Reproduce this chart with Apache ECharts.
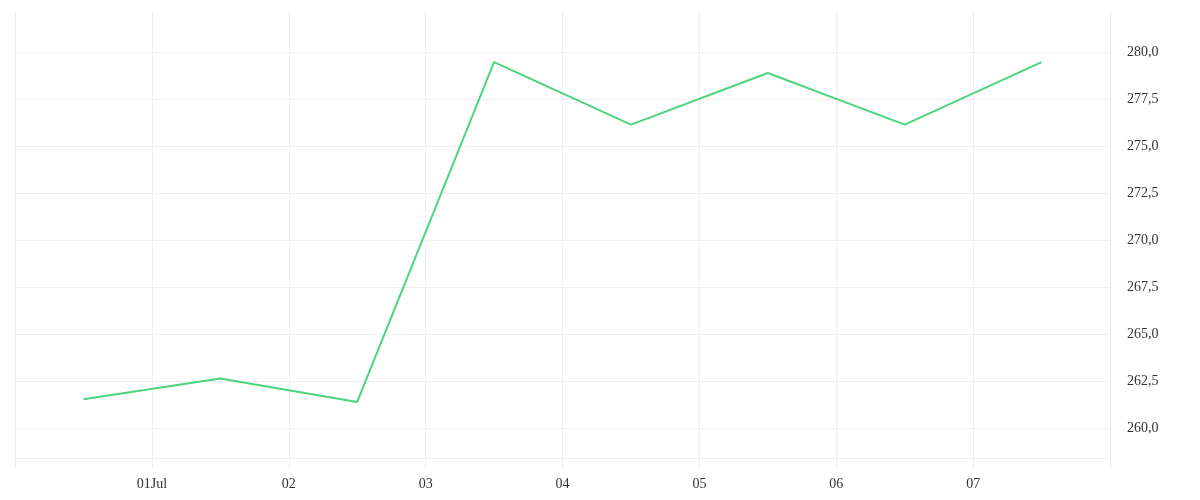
<!DOCTYPE html>
<html>
<head>
<meta charset="utf-8">
<script src="https://cdn.jsdelivr.net/npm/echarts@6/dist/echarts.min.js"></script>
<style>html,body{margin:0;padding:0;background:#fff}#c{width:1200px;height:500px}</style>
</head>
<body>
<div id="c"></div>
<script>
// Data
const dates = ['2024-06-30 12:00','2024-07-01 12:00','2024-07-02 12:00','2024-07-03 12:00','2024-07-04 12:00','2024-07-05 12:00','2024-07-06 12:00','2024-07-07 12:00'];
const values = [261.55, 262.65, 261.4, 279.48, 276.15, 278.9, 276.15, 279.48];
const xRange = ['2024-06-30 00:00', '2024-07-08 00:00'];
const yTickRange = [257.5, 282.5];
const yTickStep = 2.5;
const monthNames = ['Jan','Feb','Mar','Apr','May','Jun','Jul','Aug','Sep','Oct','Nov','Dec'];

function parseLocal(s){
  const [d,t] = s.split(' ');
  const [y,m,dd] = d.split('-').map(Number);
  const [hh,mm] = t.split(':').map(Number);
  return new Date(y, m-1, dd, hh, mm).getTime();
}
const seriesData = dates.map((d,i)=>[parseLocal(d), values[i]]);
const DAY = 86400000;
const X_MIN = parseLocal(xRange[0]);
const X_MAX = parseLocal(xRange[1]);
const FONT = '"Liberation Serif", serif';
const chart = echarts.init(document.getElementById('c'), null, {renderer:'canvas'});
chart.setOption({
  animation:false,
  grid:[
    {left:15, right:90, top:5.3, bottom:24.7, containLabel:false},
    {left:15, right:90, top:12, bottom:42, containLabel:false}
  ],
  xAxis:[
    {
      gridIndex:0, type:'time', min:X_MIN, max:X_MAX,
      minInterval: DAY, maxInterval: DAY,
      axisLine:{show:false}, axisTick:{show:false}, axisLabel:{show:false}, splitLine:{show:false}
    },
    {
      gridIndex:1, type:'time', min:X_MIN, max:X_MAX,
      minInterval: DAY, maxInterval: DAY,
      axisLine:{show:true, lineStyle:{color:'#eeeeee', width:1}},
      axisTick:{show:true, length:10, lineStyle:{color:'#eeeeee'}},
      splitLine:{show:true, showMinLine:true, showMaxLine:true, lineStyle:{color:'#eeeeee', width:1}},
      axisLabel:{
        margin:19, color:'#333', fontFamily:FONT, fontSize:14,
        formatter:function(v){
          if (v <= X_MIN || v >= X_MAX) return '';
          const d = new Date(v);
          const dd = String(d.getDate()).padStart(2,'0');
          return d.getDate()===1 ? dd + monthNames[d.getMonth()] : dd;
        }
      }
    }
  ],
  yAxis:[
    {
      gridIndex:0, type:'value', position:'right',
      min: yTickRange[0], max: yTickRange[1], interval: yTickStep,
      axisLine:{show:false}, axisTick:{show:false},
      splitLine:{show:true, showMinLine:false, showMaxLine:false, lineStyle:{color:'#eeeeee', width:1}},
      axisLabel:{
        margin:17, color:'#333', fontFamily:FONT, fontSize:14,
        formatter:function(v){
          if (v <= yTickRange[0] || v >= yTickRange[1]) return '';
          return v.toFixed(1).replace('.', ',');
        }
      }
    },
    {
      gridIndex:1, type:'value', min:0, max:1,
      axisLine:{show:false}, axisTick:{show:false}, axisLabel:{show:false}, splitLine:{show:false}
    }
  ],
  series:[{
    type:'line',
    xAxisIndex:0, yAxisIndex:0,
    data:seriesData,
    showSymbol:false,
    symbol:'none',
    lineStyle:{color:'#4cd47f', width:2},
    itemStyle:{color:'#4cd47f'}
  }]
});
</script>
</body>
</html>
